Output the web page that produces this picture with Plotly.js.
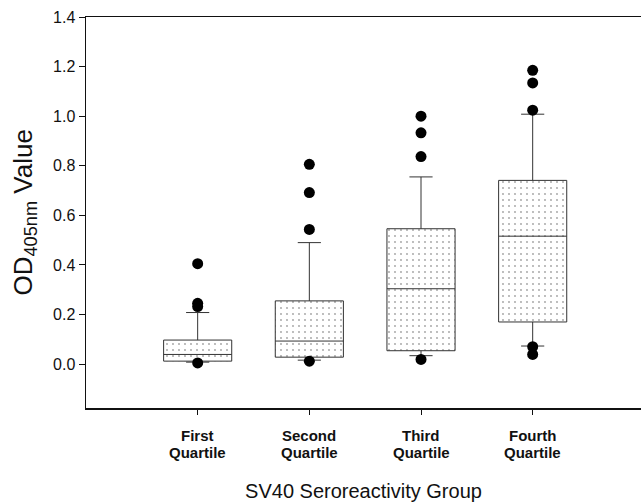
<!DOCTYPE html>
<html>
<head>
<meta charset="utf-8">
<script src="https://cdn.plot.ly/plotly-3.0.1.min.js"></script>
<style>html,body{margin:0;padding:0;background:#fff;}#chart{width:641px;height:503px;}</style>
</head>
<body>
<div id="chart"></div>
<script>
const categoryFirstLine = ["First", "Second", "Third", "Fourth"];
const categorySecondLine = ["Quartile", "Quartile", "Quartile", "Quartile"];
const positions = [1, 2, 3, 4];
const q1 = [0.012, 0.028, 0.054, 0.170];
const medians = [0.039, 0.093, 0.304, 0.516];
const q3 = [0.097, 0.255, 0.546, 0.741];
const lowerWhisker = [0.008, 0.016, 0.034, 0.073];
const upperWhisker = [0.208, 0.490, 0.755, 1.008];
const outlierGroup = [1, 1, 1, 1, 2, 2, 2, 2, 3, 3, 3, 3, 4, 4, 4, 4, 4];
const outlierValues = [0.405, 0.245, 0.232, 0.005, 0.806, 0.692, 0.543, 0.012, 1.000, 0.933, 0.837, 0.019, 1.185, 1.134, 1.024, 0.070, 0.039];
const yTicks = [0.0, 0.2, 0.4, 0.6, 0.8, 1.0, 1.2, 1.4];
const yTitle = 'OD<sub>405nm</sub> Value';
const xTitle = 'SV40 Seroreactivity Group';

const FONT = 'Liberation Sans, Arial, sans-serif';
const boxWidth = 0.61;

const traces = [];
// stippled fill of the boxes
traces.push({
  type: 'bar',
  x: positions,
  base: q1,
  y: q3.map((v, i) => v - q1[i]),
  width: boxWidth,
  marker: {
    color: 'white',
    line: {width: 0},
    pattern: {shape: '.', size: 6, solidity: 0.07, fgcolor: '#a0a0a0', bgcolor: 'white'}
  },
  hoverinfo: 'skip',
  showlegend: false
});
// box outlines, medians and whiskers
traces.push({
  type: 'box',
  x: positions,
  q1: q1,
  median: medians,
  q3: q3,
  lowerfence: lowerWhisker,
  upperfence: upperWhisker,
  width: boxWidth,
  whiskerwidth: 0.34,
  fillcolor: 'rgba(0,0,0,0)',
  line: {color: '#333333', width: 1},
  boxpoints: false,
  showlegend: false
});
// outliers
traces.push({
  type: 'scatter',
  mode: 'markers',
  x: outlierGroup,
  y: outlierValues,
  marker: {color: 'black', size: 11},
  showlegend: false
});

const annotations = [];
positions.forEach((p, i) => {
  annotations.push({
    x: p, xref: 'x', y: 0, yref: 'paper', yanchor: 'middle', xanchor: 'center',
    yshift: -27, showarrow: false,
    text: '<b>' + categoryFirstLine[i] + '</b>',
    font: {size: 15, family: FONT, color: '#111'}
  });
  annotations.push({
    x: p, xref: 'x', y: 0, yref: 'paper', yanchor: 'middle', xanchor: 'center',
    yshift: -44, showarrow: false,
    text: '<b>' + categorySecondLine[i] + '</b>',
    font: {size: 15, family: FONT, color: '#111'}
  });
});
// y-axis title
annotations.push({
  x: 0, xref: 'paper', xanchor: 'center', xshift: -62,
  y: 0.5, yref: 'paper', yanchor: 'middle',
  textangle: -90, showarrow: false,
  text: yTitle,
  font: {size: 26, family: FONT, color: '#111'}
});

const layout = {
  width: 641,
  height: 503,
  margin: {l: 86, r: 0, t: 17, b: 95},
  paper_bgcolor: 'white',
  plot_bgcolor: 'white',
  font: {family: FONT, color: '#111', size: 16},
  barmode: 'overlay',
  showlegend: false,
  annotations: annotations,
  xaxis: {
    range: [0, 4.97],
    tickmode: 'array',
    tickvals: positions,
    showticklabels: false,
    ticks: 'outside',
    ticklen: 5,
    tickcolor: '#111',
    showline: true,
    linecolor: '#111',
    linewidth: 1.5,
    mirror: true,
    showgrid: false,
    zeroline: false,
    title: {text: xTitle, font: {size: 20, family: FONT, color: '#111'}, standoff: 70}
  },
  yaxis: {
    range: [-0.177, 1.4],
    tickmode: 'array',
    tickvals: yTicks,
    ticktext: yTicks.map(v => v.toFixed(1)),
    ticks: 'outside',
    ticklen: 6,
    tickcolor: '#111',
    tickfont: {size: 16, family: FONT, color: '#111'},
    showline: true,
    linecolor: '#111',
    linewidth: 1.5,
    showgrid: false,
    zeroline: false
  }
};

Plotly.newPlot('chart', traces, layout, {displayModeBar: false, staticPlot: true});
</script>
</body>
</html>
